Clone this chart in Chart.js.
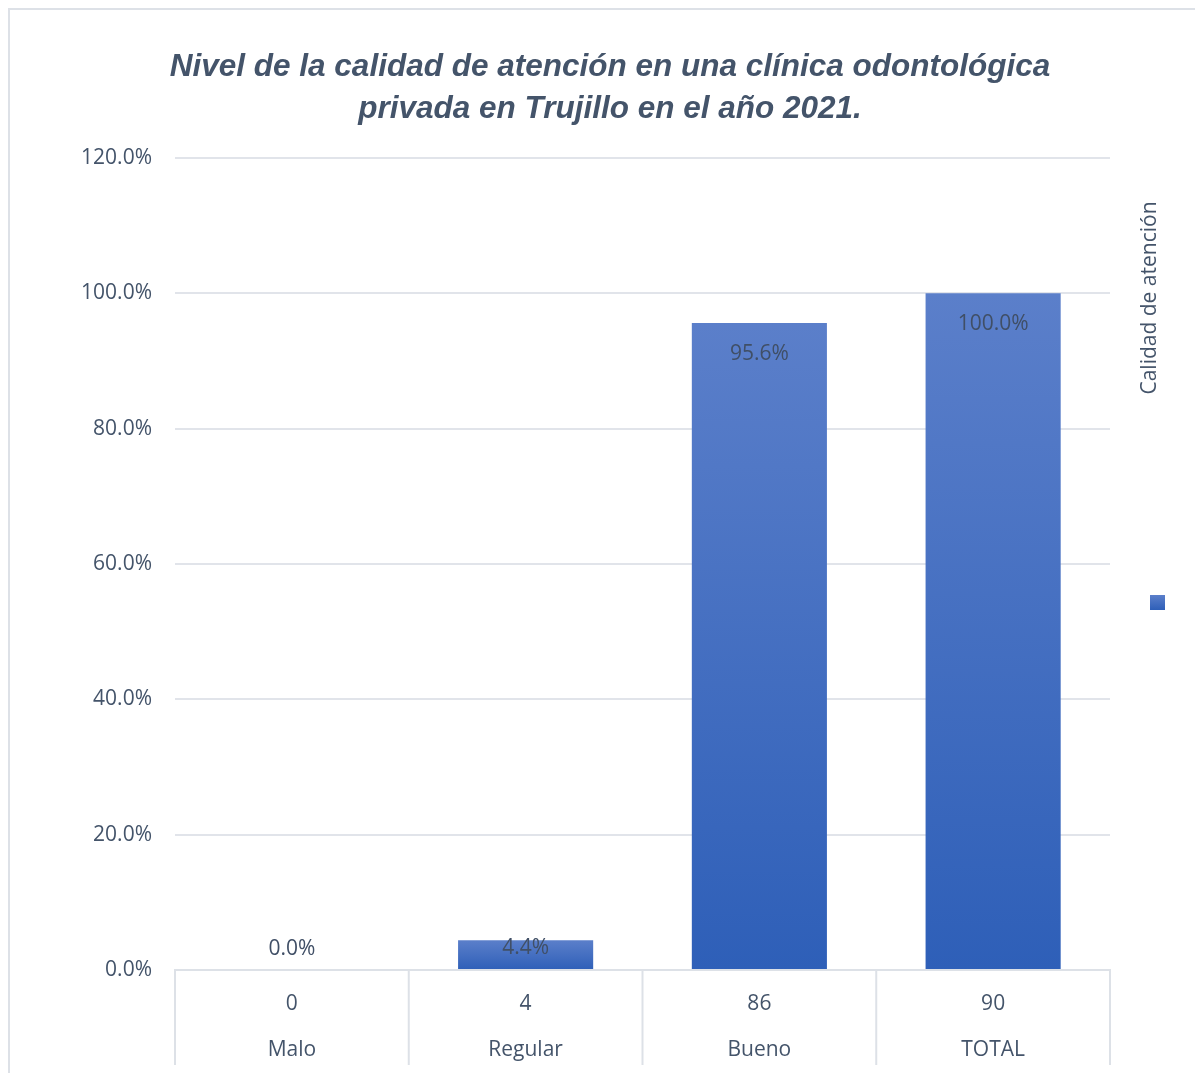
<!DOCTYPE html>
<html lang="es">
<head>
<meta charset="UTF-8" />
<title>Calidad de atención</title>
<script src="https://cdn.jsdelivr.net/npm/chart.js@4.4.1/dist/chart.umd.min.js"></script>
<style>
    body { margin: 0; background: #fff; overflow: hidden; }
    .frame { position: absolute; left: 8px; top: 8px; width: 1200px; height: 1100px; border: 2px solid #dde1e7; }
    canvas { position: absolute; left: 0; top: 0; }
</style>
</head>
<body>
<div class="frame"></div>
<canvas id="chart" width="1195" height="1073"></canvas>
<script>
    const categories = ['Malo', 'Regular', 'Bueno', 'TOTAL'];
    const counts = [0, 4, 86, 90];
    const percents = [0, 4.4, 95.6, 100];
    const seriesName = 'Calidad de atención';

    const textColor = '#44546a';
    const labelFont = { family: 'Open Sans', size: 21 };

    function barFill(ctx) {
        const chart = ctx.chart;
        if (!chart.chartArea) return '#4472c4';
        const y = chart.scales.y;
        const top = y.getPixelForValue(ctx.raw);
        const base = y.getPixelForValue(0);
        if (base - top < 1) return '#4472c4';
        const g = chart.ctx.createLinearGradient(0, top, 0, base);
        g.addColorStop(0, '#5b7fca');
        g.addColorStop(1, '#2e5fb8');
        return g;
    }

    // value labels inside the bar ends, table lines under the axis, legend on the right
    const extras = {
        id: 'extras',
        afterDatasetsDraw(chart) {
            const c = chart.ctx;
            const meta = chart.getDatasetMeta(0);
            c.save();
            c.font = '21px "Open Sans"';
            c.fillStyle = '#404f66';
            c.textAlign = 'center';
            c.textBaseline = 'middle';
            meta.data.forEach((bar, i) => {
                const y = Math.min(bar.y + 31, bar.base - 21);
                c.fillText(percents[i].toFixed(1) + '%', bar.x, y);
            });
            c.restore();
        },
        afterDraw(chart) {
            const c = chart.ctx;
            const x = chart.scales.x;
            const area = chart.chartArea;
            const step = (area.right - area.left) / categories.length;
            c.save();
            c.strokeStyle = '#dde1e7';
            c.lineWidth = 2;
            for (let i = 0; i <= categories.length; i++) {
                const px = i < categories.length ? x.getPixelForTick(i) - step / 2 : x.getPixelForTick(i - 1) + step / 2;
                c.beginPath();
                c.moveTo(px, area.bottom);
                c.lineTo(px, area.bottom + 95);
                c.stroke();
            }
            // legend
            c.fillStyle = textColor;
            c.font = '21px "Open Sans"';
            c.textAlign = 'center';
            c.textBaseline = 'middle';
            c.translate(1150, 298);
            c.rotate(-Math.PI / 2);
            c.fillText(seriesName, 0, 0);
            c.restore();
            c.save();
            const g = c.createLinearGradient(0, 595, 0, 610);
            g.addColorStop(0, '#5b7fca');
            g.addColorStop(1, '#2e5fb8');
            c.fillStyle = g;
            c.fillRect(1150, 595, 15, 15);
            c.restore();
        }
    };

    new Chart(document.getElementById('chart'), {
        type: 'bar',
        data: {
            labels: categories.map((name, i) => [String(counts[i]), name]),
            datasets: [{
                label: seriesName,
                data: percents,
                backgroundColor: barFill,
                barPercentage: 0.578,
                categoryPercentage: 1
            }]
        },
        options: {
            responsive: false,
            animation: false,
            layout: { padding: { left: 25, right: 0, top: 0, bottom: 0 } },
            plugins: {
                legend: { display: false },
                tooltip: { enabled: false },
                title: {
                    display: true,
                    text: ['Nivel de la calidad de atención en una clínica odontológica', 'privada en Trujillo en el año 2021.'],
                    color: textColor,
                    font: { family: 'Liberation Sans', size: 31.5, weight: 'bold', style: 'italic', lineHeight: '42px' },
                    padding: { top: 46, bottom: 28 }
                }
            },
            scales: {
                x: {
                    grid: { display: false },
                    border: { display: true, color: '#dde1e7', width: 2 },
                    ticks: { color: textColor, font: { ...labelFont, lineHeight: 2.2 }, padding: 3 },
                    afterFit(scale) { scale.height = 103; }
                },
                y: {
                    min: 0,
                    max: 120,
                    ticks: {
                        stepSize: 20,
                        color: textColor,
                        font: labelFont,
                        padding: 23,
                        callback: v => v.toFixed(1) + '%'
                    },
                    grid: { color: '#e1e4ea', lineWidth: 2, drawTicks: false },
                    border: { display: false },
                    afterFit(scale) { scale.width = 150; }
                },
                // empty column on the right that holds the legend
                side: {
                    type: 'linear',
                    position: 'right',
                    display: true,
                    grid: { display: false },
                    border: { display: false },
                    ticks: { display: false },
                    afterFit(scale) { scale.width = 85; }
                }
            }
        },
        plugins: [extras]
    });
</script>
</body>
</html>
